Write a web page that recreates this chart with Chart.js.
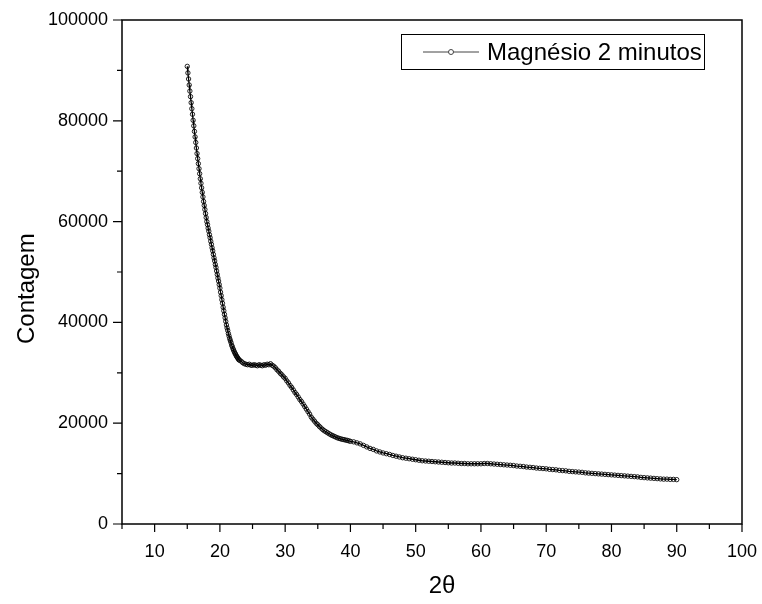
<!DOCTYPE html>
<html>
<head>
<meta charset="utf-8">
<script src="https://cdn.jsdelivr.net/npm/chart.js@4.4.1/dist/chart.umd.min.js"></script>
<style>
html,body{margin:0;padding:0;background:#fff;}
#c{display:block;}
</style>
</head>
<body>
<canvas id="c" width="762" height="604"></canvas>
<script>
// ---- data ----
const seriesLabel = 'Magnésio 2 minutos';
const xTitle = '2θ';
const yTitle = 'Contagem';

// segment A: 2θ = 15.0 .. 22.9, step 0.1
const xStartA = 15, xStepA = 0.1;
const yA = [90800,89500,88300,87100,85900,84800,83600,82400,81300,80100,
            79000,77900,76800,75700,74600,73500,72500,71500,70500,69500,
            68500,67600,66700,65800,64900,64000,63200,62400,61600,60800,
            60000,59400,58700,58100,57400,56800,56100,55500,54800,54200,
            53500,52800,52200,51500,50900,50200,49500,48800,48200,47500,
            46800,46000,45300,44500,43800,43000,42300,41600,40900,40200,
            39500,38900,38400,37800,37300,36800,36400,36000,35500,35200,
            34800,34500,34200,33900,33700,33400,33200,33000,32800,32600];

// segment B: 2θ = 23.0 .. 39.75, step 0.25
const xStartB = 23, xStepB = 0.25;
const yB = [32500,32300,32000,31800,31700,31600,31700,31500,31500,31600,
            31500,31400,31600,31500,31400,31600,31500,31700,31600,31800,
            31500,31300,31000,30600,30300,29900,29600,29200,28900,28400,
            28000,27500,27100,26600,26100,25700,25200,24700,24300,23800,
            23300,22800,22300,21800,21200,20800,20400,20000,19700,19350,
            19050,18750,18500,18300,18100,17900,17700,17550,17400,17250,
            17100,17000,16900,16800,16750,16650,16600,16500];

// segment C: 2θ = 40.0 .. 90.0, step 0.5
const xStartC = 40, xStepC = 0.5;
const yC = [16400,16300,16100,15900,15600,15300,15000,14800,14500,14300,
            14100,13950,13800,13600,13450,13300,13150,13050,12950,12850,
            12750,12650,12550,12500,12450,12400,12350,12300,12250,12200,
            12150,12100,12100,12050,12000,12000,11950,11950,11950,11950,
            11950,12000,12000,11950,11900,11850,11800,11750,11700,11650,
            11600,11500,11450,11400,11300,11250,11200,11100,11050,11000,
            10950,10850,10800,10750,10650,10600,10550,10450,10400,10350,
            10300,10250,10150,10100,10050,10000,9950,9900,9850,9800,
            9750,9700,9650,9600,9550,9500,9450,9400,9350,9250,
            9200,9150,9100,9050,9000,8950,8900,8900,8850,8850,
            8800];

// axis ticks
const xMajorTicks = [10,20,30,40,50,60,70,80,90,100];
const xMinorTicks = [5,15,25,35,45,55,65,75,85,95];
const yMajorTicks = [0,20000,40000,60000,80000,100000];
const yMinorTicks = [10000,30000,50000,70000,90000];

// ---- build points ----
function seg(x0, step, ys){
  return ys.map((y,i)=>({x: Math.round((x0 + i*step)*1000)/1000, y: y}));
}
const points = [].concat(seg(xStartA,xStepA,yA), seg(xStartB,xStepB,yB), seg(xStartC,xStepC,yC));

const FONT = '"Liberation Sans", Arial, Helvetica, sans-serif';

const framePlugin = {
  id: 'frame',
  afterDraw(chart){
    const ctx = chart.ctx, a = chart.chartArea;
    const xs = chart.scales.x, ys = chart.scales.y;
    ctx.save();
    ctx.strokeStyle = '#000';
    ctx.lineWidth = 1.5;
    ctx.strokeRect(a.left, a.top, a.right - a.left, a.bottom - a.top);
    ctx.lineWidth = 1.2;
    ctx.beginPath();
    xMajorTicks.forEach(v=>{const p = xs.getPixelForValue(v); ctx.moveTo(p, a.bottom); ctx.lineTo(p, a.bottom + 8);});
    xMinorTicks.forEach(v=>{const p = xs.getPixelForValue(v); ctx.moveTo(p, a.bottom); ctx.lineTo(p, a.bottom + 5);});
    yMajorTicks.forEach(v=>{const p = ys.getPixelForValue(v); ctx.moveTo(a.left, p); ctx.lineTo(a.left - 9, p);});
    yMinorTicks.forEach(v=>{const p = ys.getPixelForValue(v); ctx.moveTo(a.left, p); ctx.lineTo(a.left - 5, p);});
    ctx.stroke();

    // legend box
    const ds = chart.data.datasets[0];
    const bx = 401.5, by = 34.5, bw = 303, bh = 35;
    ctx.lineWidth = 1;
    ctx.strokeStyle = '#000';
    ctx.strokeRect(bx, by, bw, bh);
    const ly = by + bh/2;
    ctx.strokeStyle = '#444';
    ctx.beginPath();
    ctx.moveTo(423, ly); ctx.lineTo(479, ly);
    ctx.stroke();
    ctx.fillStyle = '#fff';
    ctx.beginPath();
    ctx.arc(451, ly, 2.5, 0, Math.PI*2);
    ctx.fill();
    ctx.stroke();
    ctx.fillStyle = '#000';
    ctx.font = '24px ' + FONT;
    ctx.textBaseline = 'middle';
    ctx.textAlign = 'left';
    ctx.fillText(ds.label, 487, ly + 1);
    ctx.restore();
  }
};

new Chart(document.getElementById('c'), {
  type: 'scatter',
  data: {
    datasets: [{
      label: seriesLabel,
      data: points,
      showLine: true,
      borderColor: '#000',
      borderWidth: 1.3,
      pointRadius: 2.2,
      pointBorderWidth: 1,
      pointBorderColor: 'rgba(0,0,0,0.85)',
      pointBackgroundColor: 'rgba(0,0,0,0)',
      tension: 0
    }]
  },
  options: {
    responsive: false,
    animation: false,
    devicePixelRatio: 1,
    layout: { padding: { top: 20, right: 20, left: 0, bottom: 0 } },
    plugins: { legend: { display: false }, tooltip: { enabled: false } },
    scales: {
      x: {
        type: 'linear',
        min: 5, max: 100,
        afterBuildTicks(scale){ scale.ticks = xMajorTicks.map(v=>({value:v})); },
        afterFit(scale){ scale.height = 80; scale.paddingLeft = 0; scale.paddingRight = 0; },
        grid: { display: false, drawTicks: false },
        border: { display: false },
        ticks: { color: '#000', font: { family: FONT, size: 18 }, padding: 17, maxRotation: 0, autoSkip: false },
        title: { display: true, text: '   ' + xTitle, color: '#000', font: { family: FONT, size: 24 }, padding: { top: 0, bottom: 3 } }
      },
      y: {
        type: 'linear',
        min: 0, max: 100000,
        afterBuildTicks(scale){ scale.ticks = yMajorTicks.map(v=>({value:v})); },
        afterFit(scale){ scale.width = 122; scale.paddingTop = 0; scale.paddingBottom = 0; },
        grid: { display: false, drawTicks: false },
        border: { display: false },
        ticks: { color: '#000', font: { family: FONT, size: 18 }, padding: 14, autoSkip: false, callback: v => String(v) },
        title: { display: true, text: yTitle + '     ', color: '#000', font: { family: FONT, size: 24 }, padding: { top: 13, bottom: 0 } }
      }
    }
  },
  plugins: [framePlugin]
});
</script>
</body>
</html>
